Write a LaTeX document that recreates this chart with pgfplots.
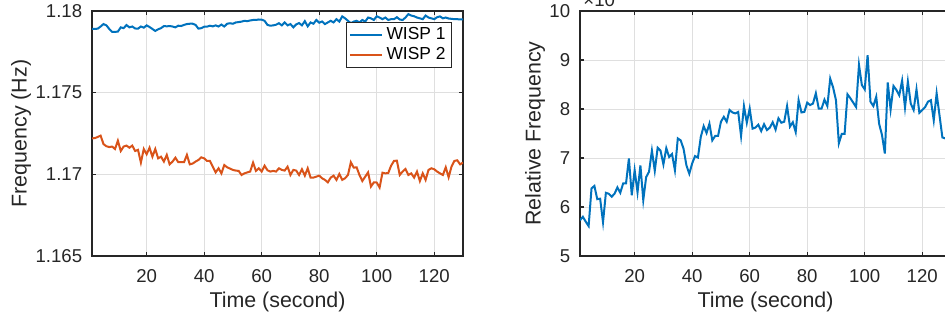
\documentclass[border=0pt]{standalone}
\usepackage{fontspec}
\setmainfont{Liberation Sans}
\usepackage{pgfplots}
\usepackage{pgfplotstable}
\pgfplotsset{compat=1.18}
\definecolor{mblue}{rgb}{0,0.447,0.741}
\definecolor{morange}{rgb}{0.85,0.325,0.098}
\definecolor{axgray}{rgb}{0.15,0.15,0.15}
\definecolor{gridgray}{rgb}{0.875,0.875,0.875}

\pgfplotstableread{
x y
1 1.17890
2 1.17890
3 1.17892
4 1.17905
5 1.17920
6 1.17912
7 1.17890
8 1.17872
9 1.17872
10 1.17874
11 1.17900
12 1.17895
13 1.17914
14 1.17900
15 1.17905
16 1.17893
17 1.17892
18 1.17905
19 1.17898
20 1.17912
21 1.17902
22 1.17890
23 1.17878
24 1.17888
25 1.17895
26 1.17908
27 1.17906
28 1.17908
29 1.17905
30 1.17900
31 1.17910
32 1.17908
33 1.17915
34 1.17920
35 1.17922
36 1.17922
37 1.17915
38 1.17892
39 1.17895
40 1.17904
41 1.17904
42 1.17910
43 1.17906
44 1.17912
45 1.17905
46 1.17917
47 1.17905
48 1.17922
49 1.17925
50 1.17922
51 1.17930
52 1.17932
53 1.17935
54 1.17940
55 1.17938
56 1.17942
57 1.17945
58 1.17945
59 1.17948
60 1.17947
61 1.17940
62 1.17915
63 1.17910
64 1.17912
65 1.17916
66 1.17925
67 1.17912
68 1.17930
69 1.17912
70 1.17920
71 1.17900
72 1.17918
73 1.17926
74 1.17912
75 1.17938
76 1.17906
77 1.17930
78 1.17922
79 1.17945
80 1.17928
81 1.17936
82 1.17920
83 1.17930
84 1.17940
85 1.17930
86 1.17950
87 1.17935
88 1.17967
89 1.17955
90 1.17940
91 1.17925
92 1.17935
93 1.17940
94 1.17930
95 1.17945
96 1.17935
97 1.17960
98 1.17955
99 1.17945
100 1.17968
101 1.17960
102 1.17950
103 1.17960
104 1.17945
105 1.17950
106 1.17950
107 1.17962
108 1.17948
109 1.17945
110 1.17960
111 1.17981
112 1.17972
113 1.17968
114 1.17960
115 1.17955
116 1.17950
117 1.17972
118 1.17960
119 1.17955
120 1.17950
121 1.17962
122 1.17967
123 1.17955
124 1.17960
125 1.17954
126 1.17952
127 1.17950
128 1.17950
129 1.17948
130 1.17948
}\wispone

\pgfplotstableread{
x y
1 1.17220
2 1.17222
3 1.17229
4 1.17237
5 1.17185
6 1.17172
7 1.17167
8 1.17170
9 1.17155
10 1.17206
11 1.17143
12 1.17170
13 1.17176
14 1.17163
15 1.17176
16 1.17143
17 1.17150
18 1.17072
19 1.17155
20 1.17123
21 1.17163
22 1.17108
23 1.17155
24 1.17098
25 1.17108
26 1.17078
27 1.17119
28 1.17061
29 1.17078
30 1.17102
31 1.17074
32 1.17074
33 1.17074
34 1.17119
35 1.17061
36 1.17066
37 1.17078
38 1.17088
39 1.17104
40 1.17098
41 1.17082
42 1.17082
43 1.17047
44 1.17012
45 1.17037
46 1.17006
47 1.17057
48 1.17043
49 1.17035
50 1.17027
51 1.17023
52 1.17021
53 1.16996
54 1.17006
55 1.17012
56 1.17017
57 1.17072
58 1.17021
59 1.17037
60 1.17017
61 1.17053
62 1.17025
63 1.17017
64 1.17021
65 1.17017
66 1.17037
67 1.17027
68 1.17023
69 1.17047
70 1.16996
71 1.17027
72 1.17023
73 1.16996
74 1.17031
75 1.16992
76 1.17037
77 1.16980
78 1.16980
79 1.16986
80 1.16992
81 1.16976
82 1.16966
83 1.16951
84 1.16980
85 1.16992
86 1.16966
87 1.17002
88 1.16966
89 1.16976
90 1.16996
91 1.17074
92 1.17041
93 1.17043
94 1.16996
95 1.16959
96 1.16986
97 1.17012
98 1.16925
99 1.16951
100 1.16950
101 1.16919
102 1.17010
103 1.17006
104 1.17008
105 1.17053
106 1.17082
107 1.17084
108 1.16996
109 1.17017
110 1.17033
111 1.16996
112 1.17006
113 1.16980
114 1.17017
115 1.16959
116 1.17006
117 1.16966
118 1.17027
119 1.17037
120 1.17031
121 1.17017
122 1.17006
123 1.16996
124 1.17043
125 1.16982
126 1.17047
127 1.17082
128 1.17086
129 1.17061
130 1.17072
}\wisptwo

\pgfplotstableread{
x y
1 5.73
2 5.80
3 5.70
4 5.61
5 6.38
6 6.43
7 6.16
8 6.17
9 5.69
10 6.29
11 6.27
12 6.21
13 6.27
14 6.40
15 6.29
16 6.48
17 6.48
18 6.99
19 6.24
20 6.75
21 6.30
22 6.85
23 6.14
24 6.61
25 6.72
26 7.15
27 6.74
28 7.21
29 7.15
30 6.87
31 7.20
32 7.02
33 7.08
34 6.75
35 7.40
36 7.36
37 7.19
38 6.85
39 6.68
40 6.89
41 7.04
42 7.01
43 7.43
44 7.65
45 7.51
46 7.70
47 7.36
48 7.45
49 7.45
50 7.74
51 7.84
52 7.74
53 7.98
54 7.93
55 7.91
56 7.94
57 7.45
58 8.06
59 7.72
60 8.01
61 7.60
62 7.62
63 7.68
64 7.55
65 7.69
66 7.57
67 7.62
68 7.73
69 7.58
70 7.81
71 7.72
72 7.74
73 8.06
74 7.64
75 7.73
76 7.53
77 8.18
78 7.93
79 7.94
80 8.13
81 8.08
82 8.11
83 8.32
84 8.01
85 8.01
86 8.19
87 8.06
88 8.62
89 8.44
90 8.18
91 7.30
92 7.49
93 7.49
94 8.30
95 8.22
96 8.13
97 8.04
98 8.90
99 8.49
100 8.40
101 9.10
102 8.15
103 8.06
104 8.25
105 7.70
106 7.47
107 7.09
108 8.54
109 7.99
110 8.47
111 8.39
112 8.28
113 8.58
114 8.03
115 8.56
116 8.11
117 7.98
118 8.40
119 7.92
120 7.98
121 8.04
122 8.15
123 8.18
124 7.77
125 8.32
126 7.87
127 7.42
128 7.40
129 7.45
130 7.40
}\relfreq

\pgfplotsset{
 mystyle/.style={
  scale only axis, width=185.5pt, height=122.5pt,
  xmin=1, xmax=130, xtick={20,40,60,80,100,120},
  tick align=inside, major tick length=1.85pt,
  grid=major, major grid style={gridgray, line width=0.5pt},
  axis line style={axgray, line width=0.6pt},
  every tick/.style={axgray, line width=0.6pt},
  tick label style={font=\fontsize{9.3}{11}\selectfont, text=axgray},
  label style={font=\fontsize{10.7}{12.5}\selectfont, text=axgray},
  /pgf/number format/assume math mode=true,
  xticklabel style={anchor=base, yshift=-13pt},
  yticklabel style={anchor=east, xshift=-1.4pt},
  xlabel={Time (second)},
  xlabel style={at={(axis description cs:0.5,-0.2122)}, anchor=base},
  scaled ticks=false,
 }
}

\begin{document}
\begin{tikzpicture}
\begin{axis}[mystyle, name=left, at={(0,0)}, anchor=south west,
  ymin=1.165, ymax=1.18,
  ytick={1.165,1.17,1.175,1.18},
  yticklabels={1.165,1.17,1.175,1.18},
  ylabel={Frequency (Hz)},
  ylabel style={at={(axis description cs:-0.191,0.5)}, anchor=center},
  legend style={at={(rel axis cs:1,1)}, anchor=north east, xshift=-5.5pt, yshift=-5.5pt,
    draw=axgray, line width=0.5pt, fill=white, font=\fontsize{8.7}{10}\selectfont,
    inner xsep=1pt, inner ysep=0.5pt, row sep=-1.5pt, cells={anchor=west, text=black}},
  legend image code/.code={\draw[#1] (0pt,0pt) -- (15.8pt,0pt);},
]
\addplot[mblue, line width=1pt] table[x=x,y=y] {\wispone};
\addlegendentry{WISP 1}
\addplot[morange, line width=1pt] table[x=x,y=y] {\wisptwo};
\addlegendentry{WISP 2}
\end{axis}
\begin{axis}[mystyle, name=right, at={(244pt,0)}, anchor=south west,
  ymin=5, ymax=10, ytick={5,6,7,8,9,10},
  ylabel={Relative Frequency},
  ylabel style={at={(axis description cs:-0.1213,0.5)}, anchor=center},
]
\addplot[mblue, line width=1pt] table[x=x,y=y] {\relfreq};
\end{axis}
\node[anchor=base west, inner sep=0pt, font=\fontsize{9.3}{11}\selectfont, text=axgray]
  at ([xshift=1.5pt, yshift=2.5pt]right.north west) {×10\textsuperscript{−3}};
\pgfresetboundingbox
\useasboundingbox (-46pt,-33pt) rectangle (426.5pt,128pt);
\end{tikzpicture}
\end{document}
